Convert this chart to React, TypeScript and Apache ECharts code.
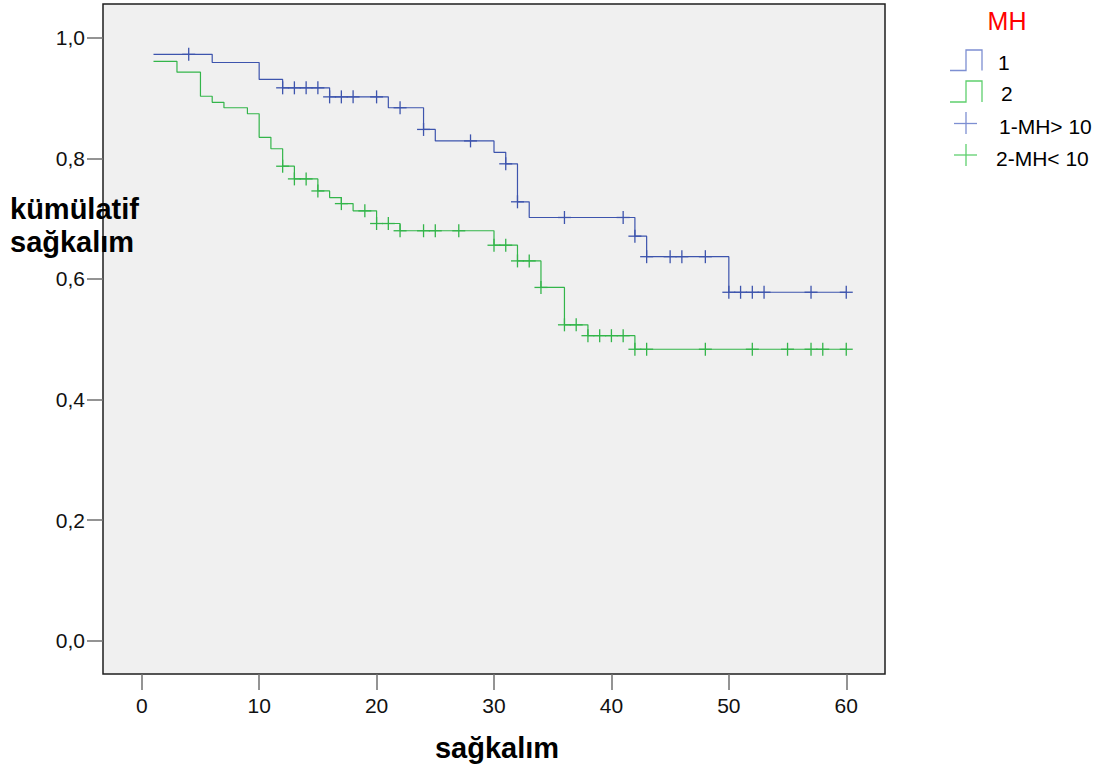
import React, { useEffect, useRef } from "react";
import * as echarts from "echarts";

// Group 1 (MH 1) Kaplan-Meier steps
const blueEventTimes = [1, 6, 10, 12, 16, 21, 24, 25, 30, 31, 32, 33, 42, 43, 50];
const blueSurv = [0.9725, 0.959, 0.931, 0.917, 0.902, 0.884, 0.848, 0.829, 0.81, 0.791, 0.728, 0.702, 0.671, 0.637, 0.578];
const blueCensored = [4, 12, 13, 14, 15, 16, 17, 18, 20, 22, 24, 28, 31, 32, 36, 41, 42, 43, 45, 46, 48, 50, 51, 52, 53, 57, 60];

// Group 2 (MH 2)
const greenEventTimes = [1, 3, 5, 6, 7, 9, 10, 11, 12, 13, 15, 16, 17, 18, 20, 22, 30, 32, 34, 36, 38, 42];
const greenSurv = [0.961, 0.943, 0.903, 0.893, 0.884, 0.874, 0.835, 0.816, 0.787, 0.766, 0.746, 0.735, 0.725, 0.713, 0.692, 0.68, 0.656, 0.63, 0.586, 0.524, 0.506, 0.4835];
const greenCensored = [12, 13, 14, 15, 17, 19, 20, 21, 22, 24, 25, 27, 30, 31, 32, 33, 34, 36, 37, 38, 39, 40, 41, 42, 43, 48, 52, 55, 57, 58, 60];

const endTime = 60;
const xTicks = [0, 10, 20, 30, 40, 50, 60];
const yTicks = [0, 0.2, 0.4, 0.6, 0.8, 1.0];

const BLUE = "#3d54ad";
const GREEN = "#33b54a";
const BLUE_LEG = "#7d8fd2";
const GREEN_LEG = "#5fcf6e";
const FONT = "'Liberation Sans', Arial, Helvetica, sans-serif";

function stepData(times: number[], surv: number[]) {
  const d = times.map((t, i) => [t, surv[i]]);
  d.push([endTime, surv[surv.length - 1]]);
  return d;
}

function survAt(times: number[], surv: number[], t: number) {
  let s = surv[0];
  for (let i = 0; i < times.length; i++) {
    if (times[i] <= t) s = surv[i];
  }
  return s;
}

function censorSeries(times: number[], surv: number[], cens: number[], color: string) {
  return {
    type: "custom",
    data: cens.map((t) => [t, survAt(times, surv, t)]),
    z: 5,
    renderItem: (params: any, api: any) => {
      const p = api.coord([api.value(0), api.value(1)]);
      const h = 6.5;
      return {
        type: "group",
        children: [
          { type: "line", shape: { x1: p[0], y1: p[1] - h, x2: p[0], y2: p[1] + h }, style: { stroke: color, lineWidth: 1.3 } },
          { type: "line", shape: { x1: p[0] - h, y1: p[1], x2: p[0] + h, y2: p[1] }, style: { stroke: color, lineWidth: 1.3 } },
        ],
      };
    },
  };
}

export default function App() {
  const ref = useRef<HTMLDivElement>(null);
  useEffect(() => {
    if (!ref.current) return;
    const chart = echarts.init(ref.current, null, { renderer: "svg" });
    const option: any = {
      animation: false,
      backgroundColor: "#ffffff",
      grid: {
        left: 103,
        top: 4,
        width: 782,
        height: 670,
        show: true,
        backgroundColor: "#f0f0f0",
        borderColor: "#1e1e1e",
        borderWidth: 1.5,
      },
      xAxis: {
        type: "value",
        min: -3.3,
        max: 63.3,
        axisLine: { show: false, onZero: false },
        splitLine: { show: false },
        axisTick: { show: true, inside: false, length: 16, customValues: xTicks, lineStyle: { color: "#707070", width: 1.5 } },
        axisLabel: { customValues: xTicks, margin: 21, fontSize: 21, color: "#111", fontFamily: FONT },
      },
      yAxis: {
        type: "value",
        min: -0.055,
        max: 1.056,
        axisLine: { show: false, onZero: false },
        splitLine: { show: false },
        axisTick: { show: true, inside: false, length: 16, customValues: yTicks, lineStyle: { color: "#707070", width: 1.5 } },
        axisLabel: {
          customValues: yTicks,
          margin: 18,
          fontSize: 21,
          color: "#111",
          fontFamily: FONT,
          formatter: (v: number) => v.toFixed(1).replace(".", ","),
        },
      },
      series: [
        {
          type: "line",
          step: "end",
          data: stepData(blueEventTimes, blueSurv),
          showSymbol: false,
          lineStyle: { color: BLUE, width: 1.2 },
          z: 3,
        },
        {
          type: "line",
          step: "end",
          data: stepData(greenEventTimes, greenSurv),
          showSymbol: false,
          lineStyle: { color: GREEN, width: 1.2 },
          z: 3,
        },
        censorSeries(blueEventTimes, blueSurv, blueCensored, BLUE),
        censorSeries(greenEventTimes, greenSurv, greenCensored, GREEN),
      ],
      graphic: [
        { type: "text", x: 10, y: 209, z: 100, style: { text: "kümülatif", font: `bold 29px ${FONT}`, fill: "#000", verticalAlign: "middle", align: "left" } },
        { type: "text", x: 10, y: 242, z: 100, style: { text: "sağkalım", font: `bold 29px ${FONT}`, fill: "#000", verticalAlign: "middle", align: "left" } },
        { type: "text", x: 497, y: 748, z: 100, style: { text: "sağkalım", font: `bold 29px ${FONT}`, fill: "#000", verticalAlign: "middle", align: "center" } },
        { type: "text", x: 1007, y: 21, style: { text: "MH", font: `25px ${FONT}`, fill: "#ff0000", verticalAlign: "middle", align: "center" } },
        { type: "polyline", shape: { points: [[950, 70.5], [966, 70.5], [966, 50], [982, 50], [982, 70.5]] }, style: { stroke: BLUE_LEG, lineWidth: 1.3, fill: "none" } },
        { type: "text", x: 998, y: 62, style: { text: "1", font: `21px ${FONT}`, fill: "#000", verticalAlign: "middle", align: "left" } },
        { type: "polyline", shape: { points: [[950, 102], [966, 102], [966, 81], [982, 81], [982, 102]] }, style: { stroke: GREEN_LEG, lineWidth: 1.3, fill: "none" } },
        { type: "text", x: 1001, y: 93.5, style: { text: "2", font: `21px ${FONT}`, fill: "#000", verticalAlign: "middle", align: "left" } },
        { type: "line", shape: { x1: 954, y1: 123.5, x2: 977, y2: 123.5 }, style: { stroke: BLUE_LEG, lineWidth: 1.3 } },
        { type: "line", shape: { x1: 966, y1: 112, x2: 966, y2: 134 }, style: { stroke: BLUE_LEG, lineWidth: 1.3 } },
        { type: "text", x: 999, y: 126, style: { text: "1-MH> 10", font: `21px ${FONT}`, fill: "#000", verticalAlign: "middle", align: "left" } },
        { type: "line", shape: { x1: 954, y1: 155, x2: 977, y2: 155 }, style: { stroke: GREEN_LEG, lineWidth: 1.3 } },
        { type: "line", shape: { x1: 966, y1: 144, x2: 966, y2: 166 }, style: { stroke: GREEN_LEG, lineWidth: 1.3 } },
        { type: "text", x: 996, y: 158, style: { text: "2-MH< 10", font: `21px ${FONT}`, fill: "#000", verticalAlign: "middle", align: "left" } },
      ],
    };
    chart.setOption(option);
    return () => chart.dispose();
  }, []);
  return (
    <div
      ref={ref}
      style={{ position: "fixed", left: 0, top: 0, width: 1109, height: 776, background: "#fff" }}
    />
  );
}
